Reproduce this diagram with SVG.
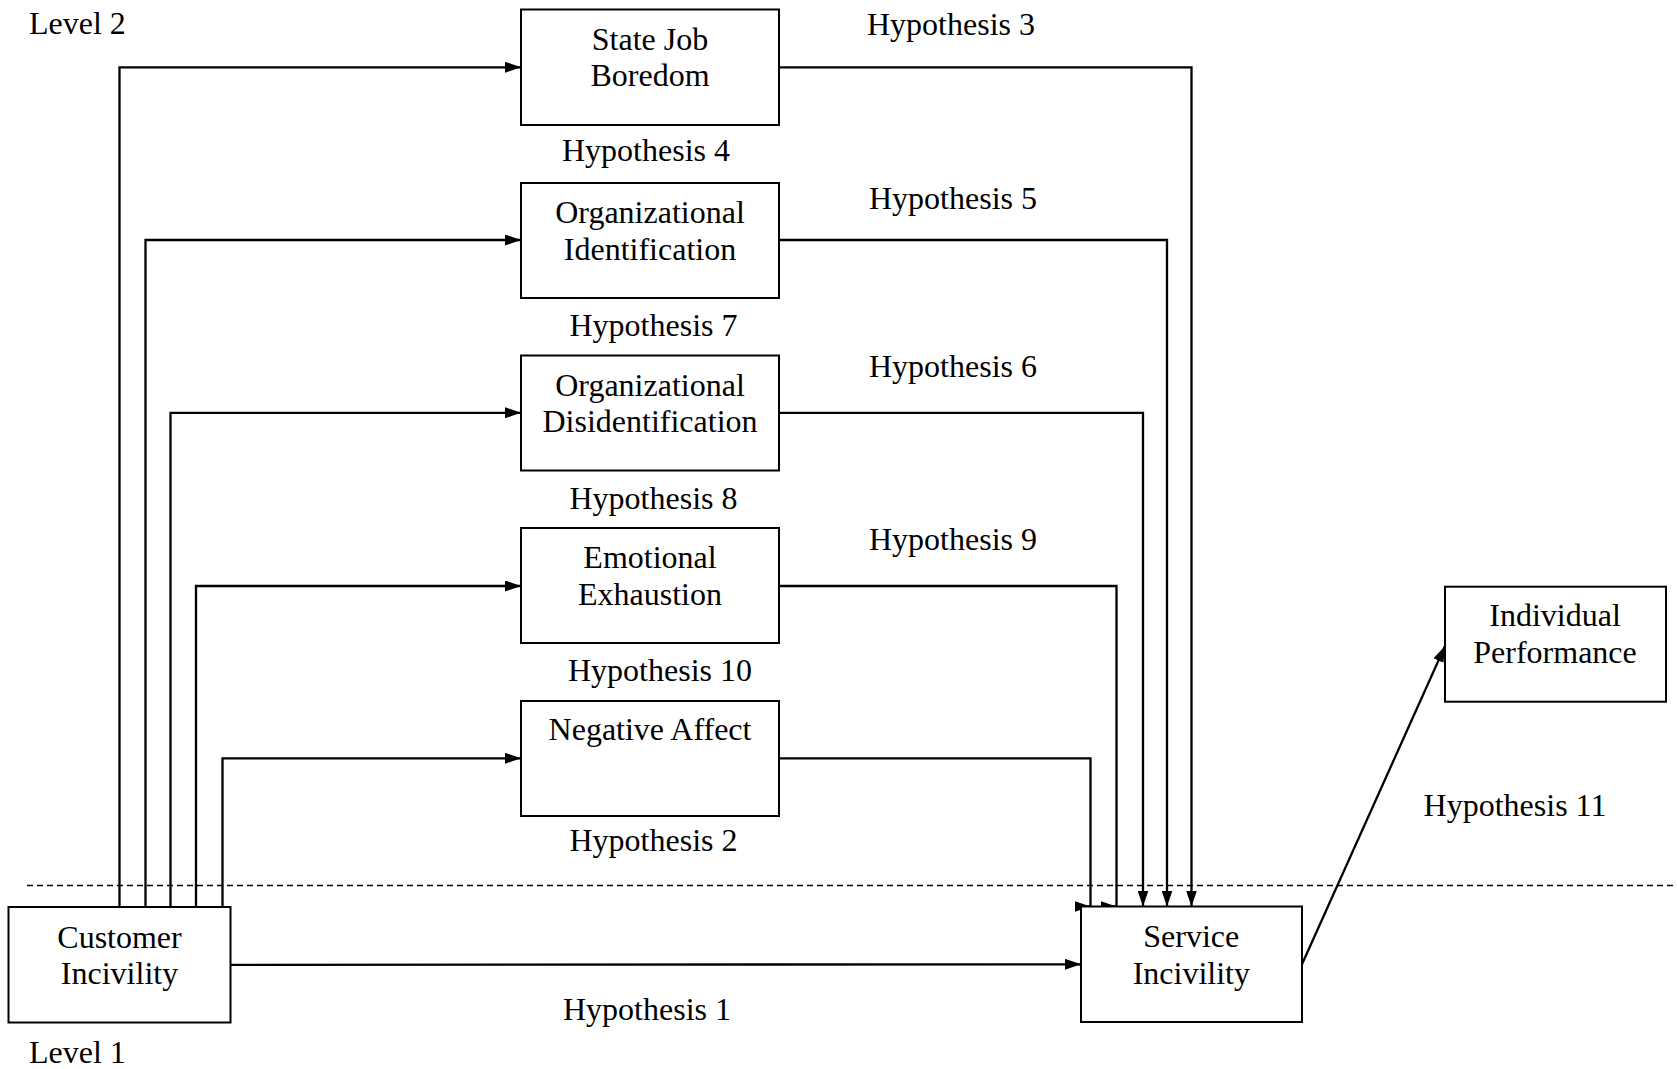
<svg xmlns="http://www.w3.org/2000/svg" width="1677" height="1069" viewBox="0 0 1677 1069">
<style>
.box{fill:#fff;stroke:#000;stroke-width:2}
.t{font-family:"Liberation Serif","Times New Roman",serif;font-size:32px;fill:#000}
.c{text-anchor:middle}
.ln{fill:none;stroke:#000;stroke-width:2.3}
.dash{fill:none;stroke:#000;stroke-width:1.3;stroke-dasharray:6,4}
</style>
<defs>
<marker id="ah" markerUnits="userSpaceOnUse" markerWidth="16" markerHeight="11" refX="16" refY="5.5" orient="auto" viewBox="0 0 16 11">
<path d="M0,0 L16,5.5 L0,11 z" fill="#000"/>
</marker>
</defs>
<rect width="1677" height="1069" fill="#fff"/>
<line class="dash" x1="27" y1="885.5" x2="1677" y2="885.5"/>
<g id="connectors">
<path class="ln" d="M119.5,907 V67.3 H521" marker-end="url(#ah)"/>
<path class="ln" d="M145.5,907 V240 H521" marker-end="url(#ah)"/>
<path class="ln" d="M170.5,907 V412.8 H521" marker-end="url(#ah)"/>
<path class="ln" d="M196,907 V586 H521" marker-end="url(#ah)"/>
<path class="ln" d="M222.5,907 V758.3 H521" marker-end="url(#ah)"/>
<path class="ln" d="M779,67.3 H1191.5 V906.5" marker-end="url(#ah)"/>
<path class="ln" d="M779,240 H1167 V906.5" marker-end="url(#ah)"/>
<path class="ln" d="M779,412.8 H1143 V906.5" marker-end="url(#ah)"/>
<path class="ln" d="M779,586 H1116.5 V906.5 M1104,906.5 H1116.5" marker-end="url(#ah)"/>
<path class="ln" d="M779,758.3 H1090.5 V906.5 M1078,906.5 H1090.5" marker-end="url(#ah)"/>
<path class="ln" d="M230.5,964.8 L1081,964.3" marker-end="url(#ah)"/>
<path class="ln" d="M1302,964.3 L1445,646" marker-end="url(#ah)"/>
</g>
<g id="state-job-boredom">
<rect class="box" x="521" y="9.5" width="258" height="115.5"/>
<text class="t c" x="650" y="49.5">State Job</text>
<text class="t c" x="650" y="86">Boredom</text>
</g>
<g id="organizational-identification">
<rect class="box" x="521" y="183" width="258" height="115"/>
<text class="t c" x="650" y="223">Organizational</text>
<text class="t c" x="650" y="259.5">Identification</text>
</g>
<g id="organizational-disidentification">
<rect class="box" x="521" y="355.5" width="258" height="115"/>
<text class="t c" x="650" y="395.5">Organizational</text>
<text class="t c" x="650" y="432">Disidentification</text>
</g>
<g id="emotional-exhaustion">
<rect class="box" x="521" y="528" width="258" height="115"/>
<text class="t c" x="650" y="568">Emotional</text>
<text class="t c" x="650" y="604.5">Exhaustion</text>
</g>
<g id="negative-affect">
<rect class="box" x="521" y="701" width="258" height="115"/>
<text class="t c" x="650" y="740">Negative Affect</text>
</g>
<g id="customer-incivility">
<rect class="box" x="8.5" y="907" width="222" height="115.5"/>
<text class="t c" x="119.5" y="948.3">Customer</text>
<text class="t c" x="119.5" y="984.3">Incivility</text>
</g>
<g id="service-incivility">
<rect class="box" x="1081" y="906.5" width="221" height="115.5"/>
<text class="t c" x="1191.3" y="946.7">Service</text>
<text class="t c" x="1191.3" y="984">Incivility</text>
</g>
<g id="individual-performance">
<rect class="box" x="1445" y="586.7" width="221" height="115"/>
<text class="t c" x="1555" y="626">Individual</text>
<text class="t c" x="1555" y="663.3">Performance</text>
</g>
<g id="labels">
<text class="t" x="29" y="34">Level 2</text>
<text class="t" x="29" y="1063">Level 1</text>
<text class="t c" x="951" y="34.5">Hypothesis 3</text>
<text class="t c" x="646" y="160.5">Hypothesis 4</text>
<text class="t c" x="953" y="208.5">Hypothesis 5</text>
<text class="t c" x="653.5" y="336">Hypothesis 7</text>
<text class="t c" x="953" y="377">Hypothesis 6</text>
<text class="t c" x="653.5" y="508.5">Hypothesis 8</text>
<text class="t c" x="953" y="550">Hypothesis 9</text>
<text class="t c" x="660" y="680.5">Hypothesis 10</text>
<text class="t c" x="653.5" y="850.5">Hypothesis 2</text>
<text class="t c" x="647" y="1020">Hypothesis 1</text>
<text class="t c" x="1515" y="816">Hypothesis 11</text>
</g>
</svg>
